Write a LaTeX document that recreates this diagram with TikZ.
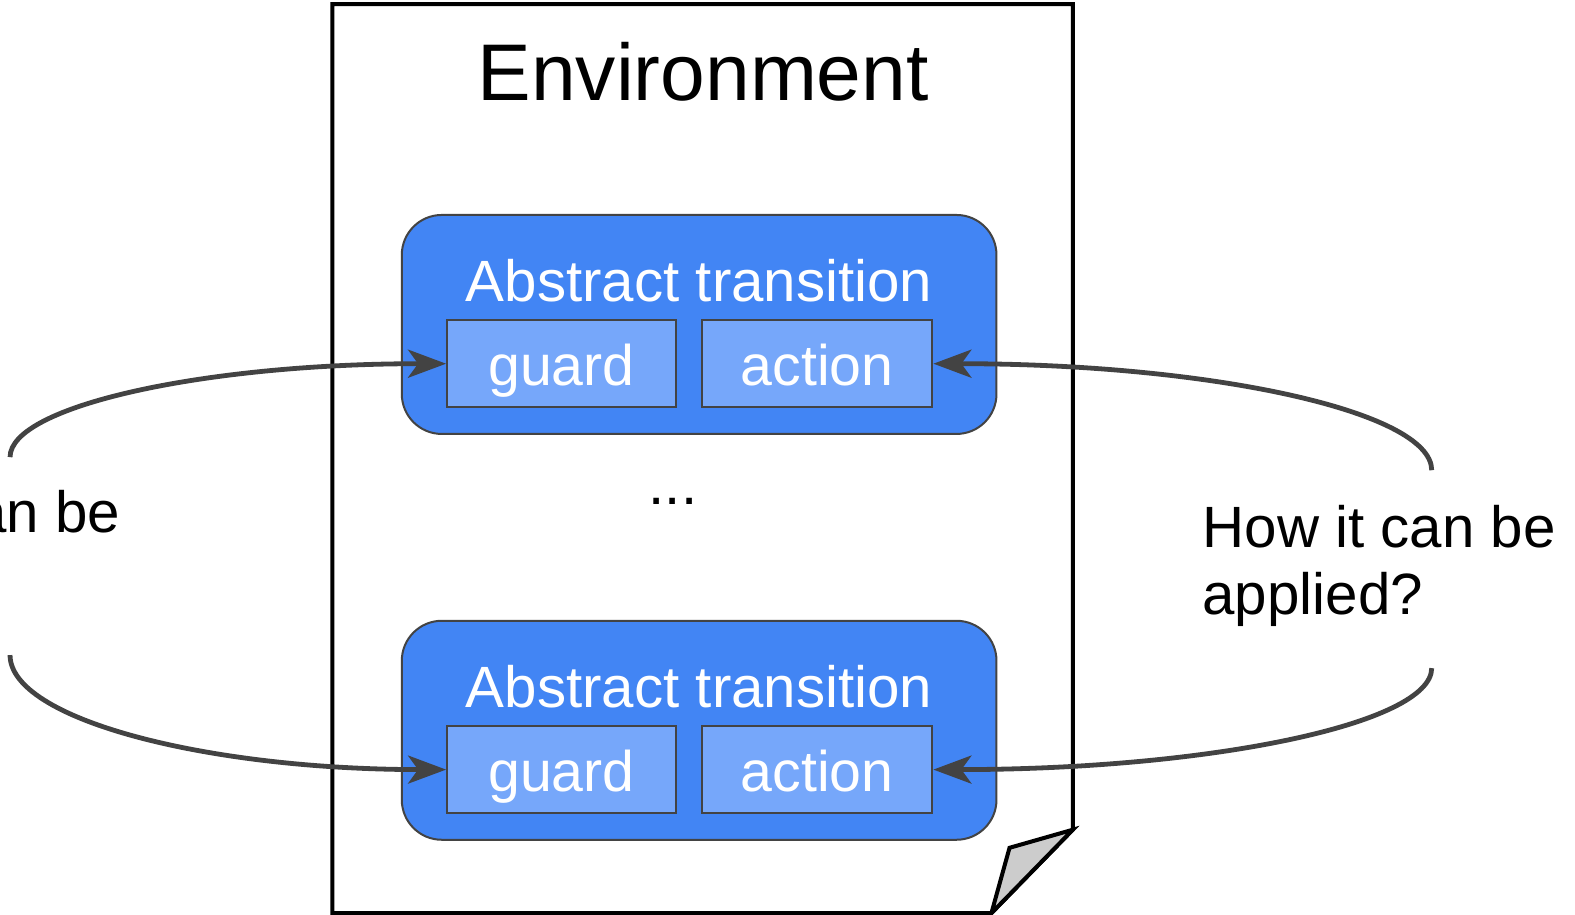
\documentclass[tikz,border=0pt]{standalone}
\usepackage{fontspec}
\setmainfont{Liberation Sans}
\usetikzlibrary{arrows.meta}
\definecolor{blueA}{HTML}{4285F4}
\definecolor{blueB}{HTML}{76A7FA}
\definecolor{edgec}{HTML}{434343}
\definecolor{foldc}{HTML}{CCCCCC}
\tikzset{
  outerbox/.style={draw=edgec, line width=2bp, fill=blueA, rounded corners=40bp,
    minimum width=592bp, minimum height=218bp, inner sep=0pt},
  innerbox/.style={draw=edgec, line width=2bp, fill=blueB, inner sep=0pt,
    minimum height=86bp, text=white, font=\fontsize{57bp}{60bp}\selectfont,
    text height=44bp, text depth=0pt},
  titletext/.style={text=white, inner sep=0pt, anchor=base, font=\fontsize{58bp}{60bp}\selectfont},
  plain/.style={inner sep=0pt, font=\fontsize{58bp}{67bp}\selectfont},
  conn/.style={draw=edgec, line width=4.8bp,
    -{Stealth[length=38bp,width=28bp,inset=10bp]}},
}
\begin{document}
\begin{tikzpicture}[x=1bp,y=-1bp,scale=1.0045,every node/.append style={transform shape}]
\useasboundingbox (0,0) rectangle (1567.95,910.9);
\begin{scope}
\clip (0,0) rectangle (1567.95,910.9);
% page
\draw[line width=4bp, fill=white, line join=miter]
  (331,4) -- (1068,4) -- (1068,826) -- (987,909) -- (331,909) -- cycle;
\draw[line width=4bp, fill=foldc, line join=miter]
  (1068,826) -- (1005,844) -- (987,909) -- cycle;
\node[inner sep=0pt, anchor=base, font=\fontsize{80bp}{90bp}\selectfont] (env) at (700,100) {Environment};

% top transition
\node[outerbox] (t1) at (696,323) {};
\node[titletext] (t1t) at (696,300) {Abstract transition};
\node[innerbox, minimum width=228bp] (g1) at (559,362) {guard};
\node[innerbox, minimum width=229bp] (a1) at (813.5,362) {action};

% dots
\node[plain, anchor=base] (dots) at (670,502) {...};

% bottom transition
\node[outerbox] (t2) at (696,727) {};
\node[titletext] (t2t) at (696,704) {Abstract transition};
\node[innerbox, minimum width=228bp] (g2) at (559,766) {guard};
\node[innerbox, minimum width=229bp] (a2) at (813.5,766) {action};

% side texts
\node[plain, anchor=base east] (lq) at (120,530) {can be};
\node[plain, anchor=base west] (rq1) at (1197,545) {How it can be};
\node[plain, anchor=base west] (rq2) at (1197,612) {applied?};

% connectors
\coordinate (lt) at (10,455);
\coordinate (lb) at (10,652);
\coordinate (rt) at (1425,468);
\coordinate (rb) at (1425,665);
\draw[conn] (lt) .. controls (10,404) and (205,362) .. (g1.west);
\draw[conn] (lb) .. controls (10,716) and (205,766) .. (g2.west);
\draw[conn] (rt) .. controls (1425,409) and (1202,362) .. (a1.east);
\draw[conn] (rb) .. controls (1425,721) and (1202,766) .. (a2.east);
\end{scope}
\end{tikzpicture}
\end{document}
